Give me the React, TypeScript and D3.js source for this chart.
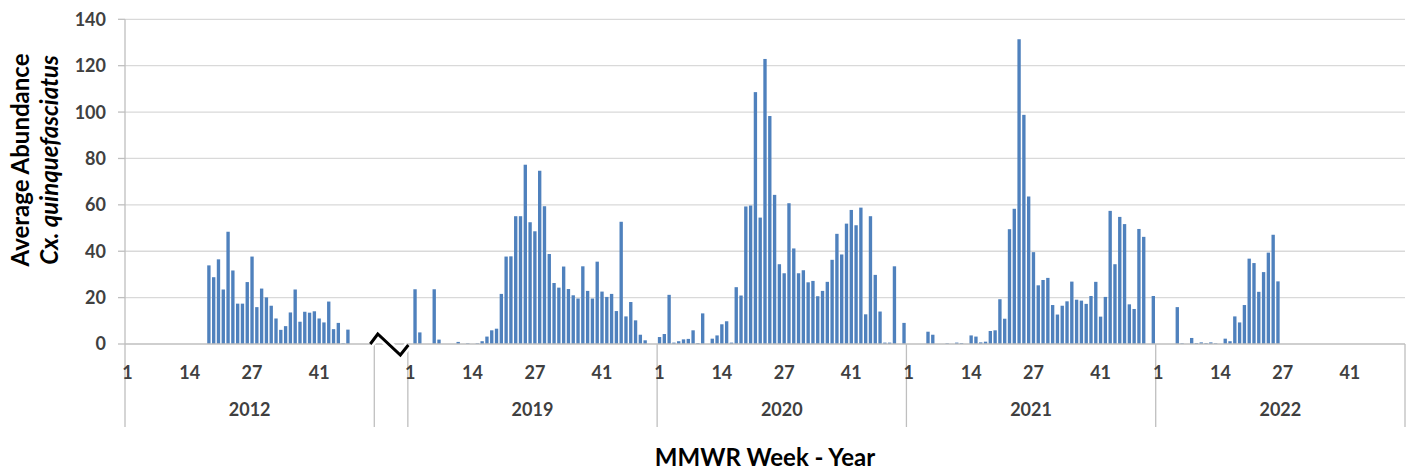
import React, { useRef, useEffect } from 'react';
import * as d3 from 'd3';

// weekly average abundance of Cx. quinquefasciatus (MMWR weeks 1-52), null = no trapping
const n = null;

const abundance2012 = [
  n, n, n, n, n, n, n, n, n, n, n, n, n, n, n, n, n,
  33.9, 28.8, 36.5, 23.5, 48.4, 31.7, 17.4, 17.4, 26.7, 37.7,
  15.9, 23.9, 20.1, 16.5, 11.0, 6.1, 7.7, 13.6, 23.5, 9.6,
  13.9, 13.5, 14.1, 11.0, 9.3, 18.3, 6.4, 9.1, 0.3, 6.2,
  n, n, n, n, n,
];

const abundance2019 = [
  n, 23.6, 5.0, n, n, 23.6, 1.9, n, n, n,
  0.9, n, 0.3, n, 0.3, 1.2, 3.2, 5.9, 6.6, 21.6,
  37.7, 37.8, 55.1, 55.1, 77.3, 52.5, 48.6, 74.7, 59.4, 38.8,
  26.3, 24.3, 33.4, 23.7, 21.0, 19.6, 33.5, 22.9, 19.6, 35.5,
  22.6, 20.3, 21.6, 14.2, 52.7, 11.9, 18.1, 10.2, 4.0, 1.6,
  n, n,
];

const abundance2020 = [
  3.0, 4.3, 21.2, 0.6, 1.2, 2.0, 2.2, 5.9, 0.4, 13.2,
  n, 2.3, 3.7, 8.5, 9.8, 0.6, 24.5, 20.9, 59.3, 59.7,
  108.6, 54.5, 122.9, 98.3, 64.3, 34.4, 30.5, 60.7, 41.2, 30.5,
  31.8, 26.6, 27.2, 20.6, 22.9, 26.8, 36.3, 47.5, 38.6, 51.9,
  57.8, 51.2, 58.8, 12.8, 55.1, 29.8, 14.0, 0.6, 0.6, 33.5,
  n, 9.1,
];

const abundance2021 = [
  n, n, n, n, 5.3, 4.0, n, n, 0.3, n,
  0.6, 0.4, n, 3.7, 3.2, 0.7, 1.0, 5.6, 5.9, 19.3,
  10.9, 49.5, 58.3, 131.4, 98.8, 63.6, 39.6, 25.3, 27.6, 28.5,
  16.8, 12.7, 16.5, 18.4, 26.9, 19.1, 18.7, 17.3, 20.7, 26.8,
  11.8, 20.3, 57.4, 34.4, 54.8, 51.7, 17.1, 15.1, 49.6, 46.2,
  n, 20.7,
];

const abundance2022 = [
  n, n, n, n, 15.9, 0.3, n, 2.6, 0.4, 0.7,
  0.4, 0.7, 0.3, n, 2.3, 1.2, 11.9, 9.3, 16.8, 36.8,
  34.9, 22.5, 31.0, 39.4, 47.1, 27.0,
  n, n, n, n, n, n, n, n, n, n, n, n, n, n, n, n, n, n, n, n, n, n, n, n, n, n,
];

// axis break between 2012 and 2019 (empty categories, no label)
const breakGap = [n, n, n, n, n, n, n];

const groups = ['2012', '', '2019', '2020', '2021', '2022'];
const groupSeries = [abundance2012, breakGap, abundance2019, abundance2020, abundance2021, abundance2022];
const weekTicks = [1, 14, 27, 41];
const yTicks = [0, 20, 40, 60, 80, 100, 120, 140];

const FONT = 'Lato, "Open Sans", sans-serif';

const App: React.FC = () => {
  const svgRef = useRef<SVGSVGElement>(null);

  useEffect(() => {
    const svg = d3.select(svgRef.current);
    svg.selectAll('*').remove();

    const left = 125;
    const right = 1405;
    const top = 19.3;
    const base = 344;
    const axisBottom = 427;

    const cats: { key: string; group: number; week: number; value: number | null }[] = [];
    groupSeries.forEach((series, gi) => {
      series.forEach((v, i) => cats.push({ key: `${gi}-${i + 1}`, group: gi, week: i + 1, value: v }));
    });

    const x = d3.scaleBand<string>()
      .domain(cats.map(c => c.key))
      .range([left, right])
      .paddingInner(0.3)
      .paddingOuter(0.15);

    const y = d3.scaleLinear()
      .domain([0, 140])
      .range([base, top]);

    const half = (x.step() - x.bandwidth()) / 2;
    const bounds = groupSeries.map((series, gi) => {
      const a = (x(`${gi}-1`) as number) - half;
      const b = (x(`${gi}-${series.length}`) as number) + x.bandwidth() + half;
      return [a, b];
    });

    // gridlines
    svg.append('g')
      .selectAll('line')
      .data(yTicks.filter(t => t > 0))
      .enter().append('line')
      .attr('x1', left).attr('x2', right)
      .attr('y1', d => y(d)).attr('y2', d => y(d))
      .attr('stroke', '#D9D9D9')
      .attr('stroke-width', 1.3);

    // bars
    svg.append('g')
      .selectAll('rect')
      .data(cats.filter(c => c.value !== null))
      .enter().append('rect')
      .attr('x', d => x(d.key) as number)
      .attr('width', x.bandwidth())
      .attr('y', d => y(d.value as number))
      .attr('height', d => base - y(d.value as number))
      .attr('fill', '#4F81BD');

    // axes lines
    svg.append('line')
      .attr('x1', left).attr('x2', right)
      .attr('y1', base).attr('y2', base)
      .attr('stroke', '#BFBFBF').attr('stroke-width', 1.3);

    svg.append('line')
      .attr('x1', left).attr('x2', left)
      .attr('y1', top).attr('y2', axisBottom)
      .attr('stroke', '#BFBFBF').attr('stroke-width', 1.3);

    // y ticks + labels
    const yAxis = svg.append('g');
    yAxis.selectAll('line')
      .data(yTicks)
      .enter().append('line')
      .attr('x1', left - 7).attr('x2', left)
      .attr('y1', d => y(d)).attr('y2', d => y(d))
      .attr('stroke', '#BFBFBF').attr('stroke-width', 1.3);

    yAxis.selectAll('text')
      .data(yTicks)
      .enter().append('text')
      .attr('x', 106)
      .attr('y', d => y(d))
      .attr('dy', '0.36em')
      .attr('text-anchor', 'end')
      .style('font-family', FONT)
      .style('font-size', '18px')
      .style('font-weight', 'bold')
      .style('fill', '#404040')
      .text(d => d);

    // group separators
    const sepX = bounds.map(b => b[0]).concat([bounds[bounds.length - 1][1]]);
    svg.append('g')
      .selectAll('line')
      .data(sepX.slice(1))
      .enter().append('line')
      .attr('x1', d => d).attr('x2', d => d)
      .attr('y1', base).attr('y2', axisBottom)
      .attr('stroke', '#BFBFBF').attr('stroke-width', 1.3);

    // week labels
    const weekLabels: { key: string; week: number }[] = [];
    groups.forEach((g, gi) => {
      if (!g) return;
      weekTicks.forEach(w => weekLabels.push({ key: `${gi}-${w}`, week: w }));
    });
    svg.append('g')
      .selectAll('text')
      .data(weekLabels)
      .enter().append('text')
      .attr('x', d => (x(d.key) as number) + x.bandwidth() / 2)
      .attr('y', 373)
      .attr('dy', '0.36em')
      .attr('text-anchor', 'middle')
      .style('font-family', FONT)
      .style('font-size', '18px')
      .style('font-weight', 'bold')
      .style('fill', '#404040')
      .text(d => d.week);

    // year labels
    svg.append('g')
      .selectAll('text')
      .data(groups.map((g, gi) => ({ g, gi })).filter(d => d.g))
      .enter().append('text')
      .attr('x', d => (bounds[d.gi][0] + bounds[d.gi][1]) / 2)
      .attr('y', 410)
      .attr('dy', '0.36em')
      .attr('text-anchor', 'middle')
      .style('font-family', FONT)
      .style('font-size', '18px')
      .style('font-weight', 'bold')
      .style('fill', '#404040')
      .text(d => d.g);

    // axis break mark
    const bs = bounds[1][0];
    const be = bounds[1][1];
    const zig: [number, number][] = [[bs - 4, base], [bs + 3.5, base - 10], [be - 7.5, base + 11], [be + 0.5, base + 1]];
    svg.append('path')
      .attr('d', d3.line()(zig))
      .attr('fill', 'none')
      .attr('stroke', 'white')
      .attr('stroke-width', 8);
    svg.append('path')
      .attr('d', d3.line()(zig))
      .attr('fill', 'none')
      .attr('stroke', 'black')
      .attr('stroke-width', 3);

    // axis titles
    svg.append('text')
      .attr('x', (left + right) / 2)
      .attr('y', 457)
      .attr('dy', '0.36em')
      .attr('text-anchor', 'middle')
      .style('font-family', FONT)
      .style('font-size', '24px')
      .style('font-weight', 'bold')
      .style('fill', '#000')
      .text('MMWR Week - Year');

    const yTitle = svg.append('g')
      .attr('transform', 'translate(0,160) rotate(-90)');
    yTitle.append('text')
      .attr('x', 0).attr('y', 29)
      .attr('text-anchor', 'middle')
      .style('font-family', FONT)
      .style('font-size', '24px')
      .style('font-weight', 'bold')
      .style('fill', '#000')
      .text('Average Abundance');
    yTitle.append('text')
      .attr('x', 0).attr('y', 58)
      .attr('text-anchor', 'middle')
      .style('font-family', FONT)
      .style('font-size', '24px')
      .style('font-weight', 'bold')
      .style('font-style', 'italic')
      .style('fill', '#000')
      .text('Cx. quinquefasciatus');
  }, []);

  return (
    <div style={{ position: 'absolute', left: 0, top: 0 }}>
      <svg ref={svgRef} width={1409} height={471} style={{ display: 'block', background: '#fff' }} />
    </div>
  );
};

export default App;
